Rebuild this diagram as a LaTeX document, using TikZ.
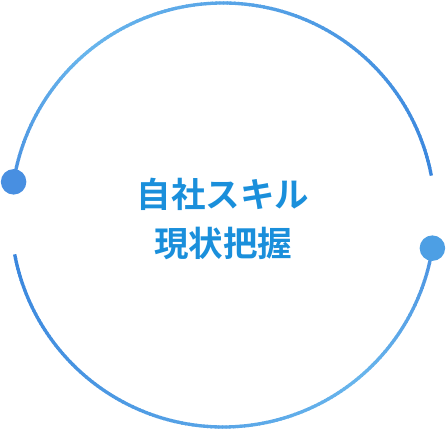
\documentclass[tikz,border=0pt]{standalone}
\usepackage{fontspec}
\newfontfamily\jpfont{Noto Sans CJK JP}[BoldFont={Noto Sans CJK JP Bold}]
\definecolor{arcmid}{RGB}{74,146,225}
\definecolor{arclight}{RGB}{104,181,236}
\definecolor{arcdark}{RGB}{58,134,221}
\definecolor{dotleft}{RGB}{72,143,225}
\definecolor{dotright}{RGB}{77,159,228}
\definecolor{titleblue}{RGB}{26,143,219}
\tikzset{
	% ring style
	ringline/.style={line width=3.3pt},
	% end points of the arcs
	enddot/.style={circle,inner sep=0pt,minimum size=25.5pt},
	% centre text
	titletext/.style={text=titleblue,align=center,
		font=\jpfont\bfseries\fontsize{34.5}{49}\selectfont},
}

\begin{document}
\begin{tikzpicture}[x=1pt,y=1pt]
\useasboundingbox (0,0) rectangle (446,430);
\coordinate (centre) at (223,215);
% the two arcs, in short pieces so that the colour runs along them
\foreach \s in {171,-9}
  \foreach \k in {0,...,159}{
    \pgfmathsetmacro{\a}{\s-\k}
    \ifnum\k<40
      \pgfmathsetmacro{\p}{100*\k/40}
      \colorlet{segcol}{arclight!\p!arcmid}
    \else
      \pgfmathsetmacro{\p}{100*(\k-40)/120}
      \colorlet{segcol}{arcdark!\p!arclight}
    \fi
    \draw[ringline,segcol] ([shift={(\a:212)}]centre) arc[start angle=\a, end angle=\a-1.3, radius=212];
  }
% the dots
\node[enddot,fill=dotleft] (dotL) at ([shift={(171:212)}]centre) {};
\node[enddot,fill=dotright] (dotR) at ([shift={(-9:212)}]centre) {};
% text
\node[titletext] (title) at (223,211.5) {自社スキル\\現状把握};
\end{tikzpicture}
\end{document}
